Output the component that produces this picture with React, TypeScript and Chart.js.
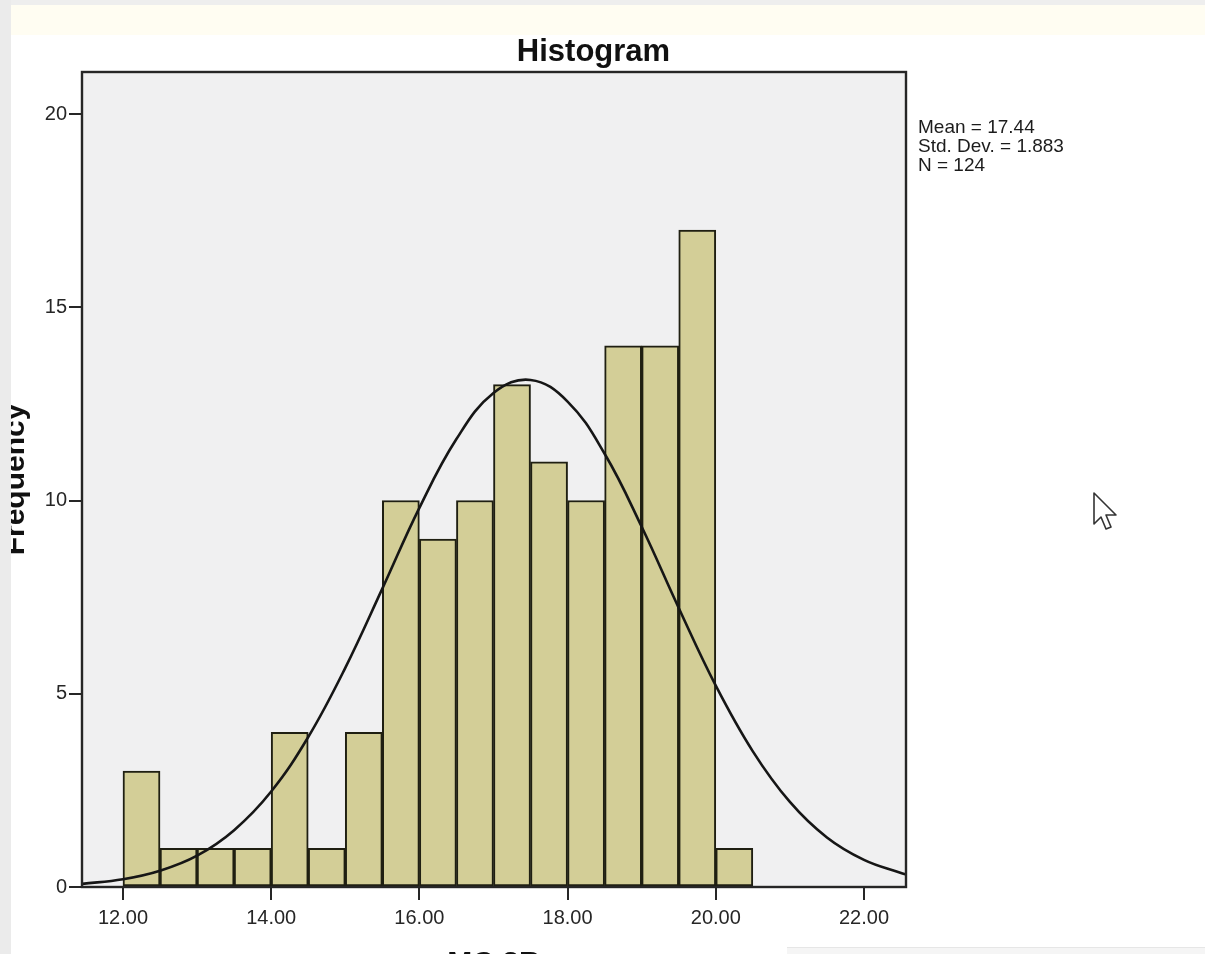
import React, { useEffect, useRef } from "react";
import { Chart, registerables } from "chart.js";

Chart.register(...registerables);

// Histogram bins (lower edge of each 0.5-wide bin) and frequencies
const binStarts = [12.0, 12.5, 13.0, 13.5, 14.0, 14.5, 15.0, 15.5, 16.0, 16.5, 17.0, 17.5, 18.0, 18.5, 19.0, 19.5, 20.0];
const frequencies = [3, 1, 1, 1, 4, 1, 4, 10, 9, 10, 13, 11, 10, 14, 14, 17, 1];
const binWidth = 0.5;

// Normal curve
const curveX = [11.45, 12.0, 12.5, 13.0, 13.5, 14.0, 14.5, 15.0, 15.5, 16.0, 16.5, 17.0, 17.5, 18.0, 18.5, 19.0, 19.5, 20.0, 20.5, 21.0, 21.5, 22.0, 22.5, 22.57];
const curveY = [0.08, 0.2, 0.42, 0.81, 1.47, 2.47, 3.88, 5.67, 7.72, 9.81, 11.59, 12.78, 13.12, 12.56, 11.21, 9.32, 7.22, 5.21, 3.51, 2.2, 1.28, 0.7, 0.36, 0.32];

// Axis ticks
const xTicks = [12, 14, 16, 18, 20, 22];
const yTicks = [0, 5, 10, 15, 20];
const xMin = 11.447;
const xMax = 22.567;
const yMax = 21.087;

const statsLines = ["Mean = 17.44", "Std. Dev. = 1.883", "N = 124"];
const titleText = "Histogram";
const xTitle = "MC 3B";
const yTitle = "Frequency";

const FONT = "'Liberation Sans', Arial, Helvetica, sans-serif";

const frame = {
  id: "frame",
  beforeDatasetsDraw(chart: any) {
    const { ctx, chartArea: a } = chart;
    ctx.save();
    ctx.fillStyle = "#f0f0f1";
    ctx.fillRect(a.left, a.top, a.right - a.left, a.bottom - a.top);
    ctx.restore();
  },
  afterDatasetsDraw(chart: any) {
    const { ctx, chartArea: a } = chart;
    ctx.save();
    ctx.strokeStyle = "#262626";
    ctx.lineWidth = 2.4;
    ctx.strokeRect(a.left, a.top, a.right - a.left, a.bottom - a.top);
    ctx.restore();
  },
};

export default function App() {
  const ref = useRef<HTMLCanvasElement | null>(null);

  useEffect(() => {
    if (!ref.current) return;
    const barData = binStarts.map((s, i) => ({ x: s + binWidth / 2, y: frequencies[i] }));
    const lineData = curveX.map((x, i) => ({ x, y: curveY[i] }));
    const chart = new Chart(ref.current, {
      type: "bar",
      data: {
        datasets: [
          {
            type: "line",
            data: lineData,
            borderColor: "#161616",
            borderWidth: 2.6,
            pointRadius: 0,
            tension: 0.4,
            fill: false,
            order: 0,
          } as any,
          {
            type: "bar",
            data: barData,
            backgroundColor: "#d3ce97",
            borderColor: "#1f1f12",
            borderWidth: 2,
            borderSkipped: false,
            barPercentage: 1,
            categoryPercentage: 1,
            order: 1,
          } as any,
        ],
      },
      options: {
        responsive: false,
        animation: false,
        events: [],
        layout: { padding: { left: 0, right: 18, top: 0, bottom: 0 } },
        plugins: {
          legend: { display: false },
          tooltip: { enabled: false },
          title: {
            display: true,
            text: titleText,
            color: "#111",
            font: { family: FONT, size: 31, weight: "bold", lineHeight: 1.2 },
            padding: { top: 34, bottom: 0.8 },
          },
        },
        scales: {
          x: {
            type: "linear",
            min: xMin,
            max: xMax,
            offset: false,
            afterBuildTicks: (s: any) => {
              s.ticks = xTicks.map((v) => ({ value: v }));
            },
            afterFit: (s: any) => {
              s.height = 67;
            },
            grid: { offset: false, drawOnChartArea: false, drawTicks: true, tickLength: 13, color: "#262626", lineWidth: 2 },
            border: { display: false },
            ticks: {
              color: "#262626",
              padding: 6,
              maxRotation: 0,
              autoSkip: false,
              font: { family: FONT, size: 20 },
              callback: (v: any) => Number(v).toFixed(2),
            },
            title: {
              display: true,
              text: xTitle,
              color: "#111",
              font: { family: FONT, size: 30, weight: "bold", lineHeight: 1.2 },
              padding: { top: 0, bottom: -28 },
            },
          },
          y: {
            type: "linear",
            position: "left",
            min: 0,
            max: yMax,
            afterBuildTicks: (s: any) => {
              s.ticks = yTicks.map((v) => ({ value: v }));
            },
            afterFit: (s: any) => {
              s.width = 82;
            },
            grid: { drawOnChartArea: false, drawTicks: true, tickLength: 13, color: "#262626", lineWidth: 2 },
            border: { display: false },
            ticks: {
              color: "#262626",
              padding: 2,
              autoSkip: false,
              font: { family: FONT, size: 20 },
            },
            title: {
              display: true,
              text: yTitle,
              color: "#111",
              font: { family: FONT, size: 30, weight: "bold", lineHeight: 1.2 },
              padding: { top: -2.5, bottom: 0 },
            },
          },
          yR: {
            type: "linear",
            position: "right",
            display: true,
            min: 0,
            max: yMax,
            afterFit: (s: any) => {
              s.width = 1205 - 906 - 18;
            },
            grid: { display: false },
            border: { display: false },
            ticks: { display: false },
          },
        },
      } as any,
      plugins: [frame],
    });
    return () => chart.destroy();
  }, []);

  return (
    <div style={{ position: "fixed", left: 0, top: 0, width: 1205, height: 954, background: "#fff", overflow: "hidden" }}>
      <div style={{ position: "absolute", left: 0, top: 0, width: 1205, height: 5, background: "#eeeeee" }} />
      <div style={{ position: "absolute", left: 11, top: 5, width: 1194, height: 30, background: "#fffdf2" }} />
      <div style={{ position: "absolute", left: 787, top: 947, width: 418, height: 7, background: "#f5f5f5", borderTop: "1px solid #e6e6e6" }} />
      <canvas ref={ref} width={1205} height={954} style={{ position: "absolute", left: 0, top: 0, width: 1205, height: 954 }} />
      <div style={{ position: "absolute", left: 0, top: 0, width: 11, height: 954, background: "#ebebeb" }} />
      <div style={{ position: "absolute", left: 918, top: 117, fontFamily: FONT, fontSize: 19, lineHeight: "19px", color: "#1c1c1c", whiteSpace: "pre" }}>
        {statsLines.map((l, i) => (
          <div key={i}>{l}</div>
        ))}
      </div>
      <svg style={{ position: "absolute", left: 1090, top: 490 }} width={36} height={44} viewBox="0 0 36 44">
        <polygon points="4,3 4,34 11,27 16,39 21,37 16,25 26,25" fill="#ffffff" stroke="#333" strokeWidth={1.6} strokeLinejoin="round" />
      </svg>
    </div>
  );
}
